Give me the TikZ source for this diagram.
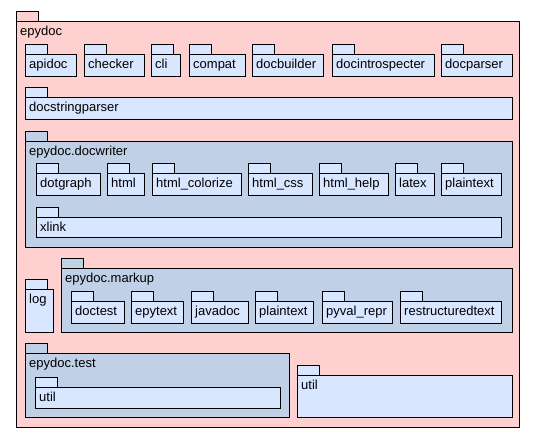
\documentclass[tikz,border=0pt]{standalone}
\usepackage{fontspec}
\setmainfont{Liberation Sans}

\definecolor{pkgpink}{HTML}{FFD0D0}
\definecolor{pkgblue}{HTML}{D8E6FF}
\definecolor{grpblue}{HTML}{C0D0E6}

% package: name, x1, y1 (top of body), x2, y2, fill, label
\newcommand{\pkg}[7]{%
  \draw[pkgline, fill=#6] (#2,#3-10) rectangle (#2+22,#3);
  \draw[pkgline, fill=#6] (#2,#3) rectangle (#4,#5);
  \node[pkglabel] (#1) at (#2+4,#3+14.5) {#7};
}

\begin{document}
\begin{tikzpicture}[x=1pt, y=-1pt,
    pkgline/.style={draw=black, line width=1pt},
    pkglabel/.style={anchor=base west, inner sep=0pt, font=\fontsize{13}{15}\selectfont}]
  \useasboundingbox (0,0) rectangle (536,437);

  % Draw outer package
  \pkg{epydoc}{16}{21}{519}{427}{pkgpink}{epydoc}

  % Draw first row
  \pkg{apidoc}{25}{54}{76}{76}{pkgblue}{apidoc}
  \pkg{checker}{84}{54}{144}{76}{pkgblue}{checker}
  \pkg{cli}{151}{54}{180}{76}{pkgblue}{cli}
  \pkg{compat}{189}{54}{245}{76}{pkgblue}{compat}
  \pkg{docbuilder}{252}{54}{323}{76}{pkgblue}{docbuilder}
  \pkg{docintrospecter}{332}{54}{434}{76}{pkgblue}{docintrospecter}
  \pkg{docparser}{441}{54}{512}{76}{pkgblue}{docparser}
  \pkg{docstringparser}{25}{97}{512}{119}{pkgblue}{docstringparser}

  % Draw docwriter package
  \pkg{docwriter}{25}{141}{512}{247}{grpblue}{epydoc.docwriter}
  \pkg{dotgraph}{36}{173}{100}{195}{pkgblue}{dotgraph}
  \pkg{html}{107}{173}{144}{195}{pkgblue}{html}
  \pkg{htmlcolorize}{152}{173}{241}{195}{pkgblue}{html\_colorize}
  \pkg{htmlcss}{248}{173}{312}{195}{pkgblue}{html\_css}
  \pkg{htmlhelp}{319}{173}{388}{195}{pkgblue}{html\_help}
  \pkg{latex}{395}{173}{434}{195}{pkgblue}{latex}
  \pkg{plaintext}{441}{173}{501}{195}{pkgblue}{plaintext}
  \pkg{xlink}{36}{217}{501}{237}{pkgblue}{xlink}

  % Draw log and markup package
  \pkg{log}{25}{289}{53}{332}{pkgblue}{log}
  \pkg{markup}{61}{268}{512}{332}{grpblue}{epydoc.markup}
  \pkg{doctest}{71}{301}{124}{323}{pkgblue}{doctest}
  \pkg{epytext}{131}{301}{183}{323}{pkgblue}{epytext}
  \pkg{javadoc}{191}{301}{248}{323}{pkgblue}{javadoc}
  \pkg{mplaintext}{255}{301}{313}{323}{pkgblue}{plaintext}
  \pkg{pyvalrepr}{322}{301}{392}{323}{pkgblue}{pyval\_repr}
  \pkg{restructuredtext}{400}{301}{501}{323}{pkgblue}{restructuredtext}

  % Draw test package and util
  \pkg{test}{25}{353}{289}{417}{grpblue}{epydoc.test}
  \pkg{testutil}{35}{387}{280}{408}{pkgblue}{util}
  \pkg{util}{297}{375}{512}{417}{pkgblue}{util}
\end{tikzpicture}
\end{document}
